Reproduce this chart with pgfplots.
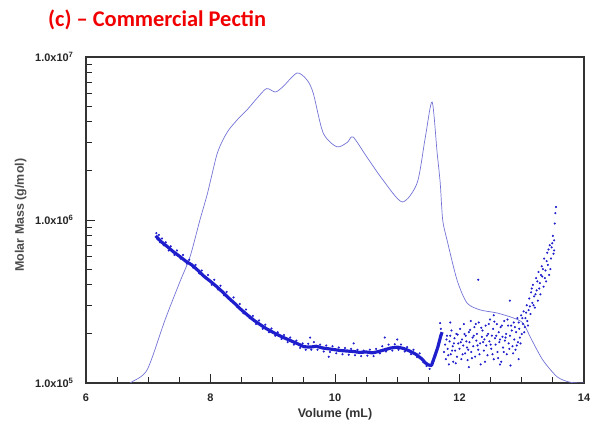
\documentclass[border=0pt]{standalone}
\usepackage{pgfplots}
\pgfplotsset{compat=1.18}
\usepackage{fontspec}
\setmainfont{Liberation Sans}[BoldFont={Liberation Sans Bold}]
\newfontfamily\titlefont{Carlito}

\definecolor{riline}{RGB}{115,115,215}
\definecolor{mmdot}{RGB}{30,30,205}
\definecolor{titlered}{RGB}{240,0,0}
\newcommand{\labfont}{\fontsize{12.5}{14}\selectfont\bfseries}

\begin{document}
\begin{tikzpicture}
\path[use as bounding box] (0,0) rectangle (595bp,423bp);
\node[anchor=base west, text=titlered, font=\titlefont\bfseries\fontsize{22.5}{26}\selectfont, inner sep=0pt]
  at (48bp,396bp) {(c) – Commercial Pectin};

\begin{axis}[
  at={(86bp,40bp)}, anchor=south west,
  scale only axis, width=498bp, height=326bp,
  ymode=log,
  xmin=6, xmax=14, ymin=1e5, ymax=1e7,
  xtick={6,8,10,12,14},
  minor xtick={6.5,7,...,13.5},
  ytick={1e5,1e6,1e7},
  yticklabels={1.0x10\textsuperscript{5},1.0x10\textsuperscript{6},1.0x10\textsuperscript{7}},
  tick pos=left, tick align=inside,
  major tick length=9bp, minor tick length=6bp,
  every tick/.style={black!85, line width=0.9pt},
  axis line style={black!80, line width=1.1pt},
  /pgf/number format/assume math mode=true,
  tick label style={font=\bfseries\fontsize{11}{12}\selectfont, black!85},
  yticklabel style={xshift=-9bp},
  xticklabel style={yshift=-7bp},
  xlabel={\labfont Volume (mL)}, ylabel={\labfont Molar Mass (g/mol)},
  every axis x label/.style={at={(axis description cs:0.5,-0.095)}, anchor=center, text=black!80},
  every axis y label/.style={at={(axis description cs:-0.131,0.515)}, anchor=center, rotate=90, text=black!70},
  clip=true,
]
% RI trace
\addplot[riline, line width=0.7pt, smooth, tension=0.45] coordinates {
  (6.62,0.9e5) (6.71,1.0e5) (6.98,1.20e5) (7.27,2.44e5) (7.50,4.1e5) (7.67,5.93e5)
  (7.83,1.0e6) (7.95,1.45e6) (8.10,2.5e6) (8.20,3.1e6) (8.30,3.6e6) (8.45,4.2e6)
  (8.60,4.8e6) (8.75,5.6e6) (8.90,6.4e6) (9.04,6.10e6) (9.16,6.55e6) (9.39,7.98e6)
  (9.55,7.23e6) (9.65,6.01e6) (9.81,3.42e6) (10.03,2.81e6) (10.20,3.0e6) (10.29,3.23e6)
  (10.51,2.44e6) (10.77,1.76e6) (11.08,1.29e6) (11.32,1.69e6) (11.45,3.2e6) (11.56,5.30e6)
  (11.64,2.6e6) (11.69,1.69e6) (11.73,1.0e6) (11.80,7.53e5) (11.96,4.29e5)
  (12.12,3.10e5) (12.33,2.81e5) (12.60,2.69e5) (12.86,2.51e5) (13.02,2.33e5)
  (13.16,1.84e5) (13.34,1.38e5) (13.57,1.09e5) (13.78,1.01e5) (14.00,1.0e5)
};
% molar mass, dense band
\addplot[mmdot, line width=3.2pt, line join=round] coordinates {
  (7.12,8.0e5) (7.2,7.4e5) (7.3,6.9e5) (7.4,6.4e5) (7.5,6.0e5) (7.6,5.6e5)
  (7.7,5.3e5) (7.8,4.9e5) (7.9,4.5e5) (8.0,4.2e5) (8.1,3.9e5) (8.2,3.6e5)
  (8.3,3.3e5) (8.4,3.05e5) (8.5,2.8e5) (8.6,2.6e5) (8.7,2.42e5) (8.8,2.28e5)
  (8.9,2.15e5) (9.0,2.05e5) (9.1,1.96e5) (9.2,1.88e5) (9.3,1.81e5) (9.4,1.74e5)
  (9.5,1.67e5) (9.6,1.66e5) (9.7,1.68e5) (9.8,1.64e5) (9.9,1.62e5) (10.0,1.60e5)
  (10.1,1.58e5) (10.2,1.57e5) (10.3,1.56e5) (10.4,1.54e5) (10.5,1.55e5) (10.6,1.53e5)
  (10.7,1.56e5) (10.8,1.60e5) (10.9,1.64e5) (11.0,1.66e5) (11.1,1.63e5) (11.2,1.57e5)
  (11.3,1.50e5) (11.4,1.40e5) (11.45,1.33e5) (11.5,1.29e5) (11.55,1.28e5) (11.6,1.45e5)
  (11.65,1.65e5) (11.7,1.95e5) (11.72,2.05e5)
};
% molar mass, single slices
\addplot[only marks, mark=*, mark size=0.85pt, mmdot] coordinates {
  (7.13,8.3e5) (7.15,7.6e5) (7.17,8.1e5) (7.19,7.3e5) (7.22,7.7e5) (7.25,7.0e5)
  (7.28,7.3e5) (7.33,6.5e5) (7.36,6.9e5) (7.42,6.1e5) (7.46,6.5e5) (7.52,5.8e5)
  (7.56,6.1e5) (7.62,5.4e5) (7.66,5.7e5) (7.72,5.1e5) (7.76,5.3e5) (7.82,4.7e5)
  (7.86,4.9e5) (7.92,4.4e5) (7.96,4.6e5) (8.02,4.0e5) (8.06,4.3e5) (8.12,3.75e5)
  (8.16,3.95e5) (8.22,3.45e5) (8.26,3.62e5) (8.33,3.18e5) (8.37,3.35e5) (8.43,2.92e5)
  (8.47,3.05e5) (8.53,2.68e5) (8.57,2.82e5) (8.63,2.50e5) (8.68,2.58e5) (8.73,2.30e5)
  (8.78,2.42e5) (8.84,2.15e5) (8.88,2.28e5) (8.94,2.05e5) (8.98,2.16e5) (9.04,1.95e5)
  (9.08,2.05e5) (9.14,1.86e5) (9.18,1.97e5) (9.24,1.78e5) (9.28,1.90e5) (9.34,1.72e5)
  (9.38,1.82e5) (9.44,1.64e5) (9.48,1.75e5) (9.53,1.60e5) (9.57,1.74e5) (9.62,1.60e5)
  (9.66,1.78e5) (9.72,1.60e5) (9.76,1.72e5) (9.82,1.56e5) (9.86,1.70e5) (9.92,1.55e5)
  (9.96,1.68e5) (10.02,1.52e5) (10.06,1.65e5) (10.12,1.50e5) (10.16,1.64e5) (10.22,1.49e5)
  (10.26,1.62e5) (10.32,1.48e5) (10.36,1.60e5) (10.42,1.46e5) (10.46,1.58e5) (10.52,1.47e5)
  (10.56,1.60e5) (10.62,1.46e5) (10.66,1.62e5) (10.72,1.52e5) (10.76,1.68e5) (10.82,1.56e5)
  (10.86,1.72e5) (10.92,1.58e5) (10.96,1.73e5) (11.02,1.60e5) (11.06,1.72e5) (11.12,1.56e5)
  (11.16,1.66e5) (11.22,1.50e5) (11.26,1.60e5) (11.32,1.44e5) (11.36,1.52e5) (11.42,1.34e5)
  (11.47,1.27e5) (11.52,1.22e5) (11.57,1.35e5) (11.62,1.55e5) (11.67,1.78e5) (11.70,2.15e5)
  (9.60,1.9e5) (10.30,1.75e5) (10.80,1.9e5) (11.00,1.85e5) (9.90,1.45e5) (11.69,2.33e5)
  (11.75,1.55e5) (11.77,1.72e5) (11.78,1.40e5) (11.80,1.95e5) (11.81,1.62e5) (11.83,1.30e5)
  (11.84,1.80e5) (11.86,1.50e5) (11.87,2.10e5) (11.89,1.68e5) (11.90,1.35e5) (11.92,1.88e5)
  (11.93,1.58e5) (11.95,2.00e5) (11.96,1.45e5) (11.98,1.75e5) (12.00,1.62e5) (12.01,2.15e5)
  (12.03,1.40e5) (12.04,1.85e5) (12.06,1.70e5) (12.07,2.30e5) (12.09,1.52e5) (12.10,1.95e5)
  (12.12,1.65e5) (12.13,1.38e5) (12.15,2.05e5) (12.16,1.78e5) (12.18,2.40e5) (12.19,1.55e5)
  (12.21,1.90e5) (12.22,1.68e5) (12.24,2.20e5) (12.25,1.45e5) (12.27,1.82e5) (12.28,2.00e5)
  (12.30,1.60e5) (12.31,2.35e5) (12.33,1.75e5) (12.34,1.30e5) (12.36,1.92e5) (12.37,2.10e5)
  (12.39,1.58e5) (12.40,1.85e5) (12.42,2.25e5) (12.43,1.70e5) (12.45,1.48e5) (12.46,2.00e5)
  (12.48,1.80e5) (12.49,2.45e5) (12.51,1.62e5) (12.52,1.95e5) (12.54,2.15e5) (12.55,1.40e5)
  (12.57,1.88e5) (12.58,1.72e5) (12.60,2.30e5) (12.61,1.55e5) (12.63,2.05e5) (12.64,1.78e5)
  (12.66,2.20e5) (12.67,1.35e5) (12.69,1.92e5) (12.70,1.65e5) (12.72,2.40e5) (12.73,1.82e5)
  (12.75,2.00e5) (12.76,1.50e5) (12.78,2.25e5) (12.79,1.75e5) (12.81,1.95e5) (12.82,1.28e5)
  (12.84,2.10e5) (12.85,1.68e5) (12.87,2.35e5) (12.88,1.85e5) (12.90,1.60e5) (12.91,2.05e5)
  (12.93,2.50e5) (12.94,1.78e5) (12.96,2.15e5) (12.97,1.90e5) (12.99,2.60e5) (13.00,2.00e5)
  (13.02,2.30e5) (13.03,2.75e5) (13.05,2.20e5) (13.06,2.50e5) (13.08,3.00e5) (13.09,2.40e5)
  (13.11,2.80e5) (13.12,3.30e5) (13.14,2.65e5) (13.15,3.60e5) (13.17,3.10e5) (13.18,4.00e5)
  (13.20,3.40e5) (13.21,2.90e5) (13.23,4.40e5) (13.24,3.70e5) (13.26,3.20e5) (13.27,4.80e5)
  (13.29,4.10e5) (13.30,3.50e5) (13.32,5.20e5) (13.33,4.50e5) (13.35,3.90e5) (13.36,5.80e5)
  (13.38,4.90e5) (13.39,4.20e5) (13.41,6.30e5) (13.42,5.30e5) (13.44,4.60e5) (13.45,7.00e5)
  (13.47,5.80e5) (13.48,6.80e5) (13.50,8.00e5) (13.51,6.20e5) (13.52,7.50e5) (13.53,9.50e5)
  (13.54,1.10e6) (13.55,1.20e6)
  (12.30,4.3e5) (12.81,3.2e5)
  (11.79,1.85e5) (11.82,1.48e5) (11.85,1.95e5) (11.88,1.58e5) (11.91,1.75e5) (11.94,1.32e5)
  (11.97,1.98e5) (12.02,1.78e5) (12.05,1.50e5) (12.08,2.00e5) (12.11,1.80e5) (12.14,1.60e5)
  (12.17,2.12e5) (12.20,1.42e5) (12.23,1.95e5) (12.26,2.30e5) (12.29,1.70e5) (12.32,1.50e5)
  (12.35,2.18e5) (12.38,1.78e5) (12.41,1.35e5) (12.44,1.95e5) (12.47,2.30e5) (12.50,1.72e5)
  (12.53,1.50e5) (12.56,2.38e5) (12.59,1.95e5) (12.62,1.42e5) (12.65,1.85e5) (12.68,2.25e5)
  (12.71,1.55e5) (12.74,1.90e5) (12.77,2.45e5) (12.80,1.62e5) (12.83,2.25e5) (12.86,1.52e5)
  (12.89,2.20e5) (12.92,1.70e5) (12.95,2.35e5) (12.98,1.75e5) (13.01,2.50e5) (13.04,2.05e5)
  (13.07,2.70e5) (13.10,2.25e5) (13.13,2.95e5) (13.16,3.80e5) (13.19,3.00e5) (13.22,3.50e5)
  (13.25,4.20e5) (13.28,3.80e5) (13.31,4.60e5) (13.34,5.00e5) (13.37,4.40e5) (13.40,5.60e5)
  (13.43,6.60e5) (13.46,5.00e5) (13.49,7.20e5) (13.52,6.50e5) (11.85,2.35e5) (12.55,2.6e5)
  (12.15,1.25e5) (12.65,1.3e5) (12.95,1.4e5)
};
\end{axis}
\end{tikzpicture}
\end{document}
